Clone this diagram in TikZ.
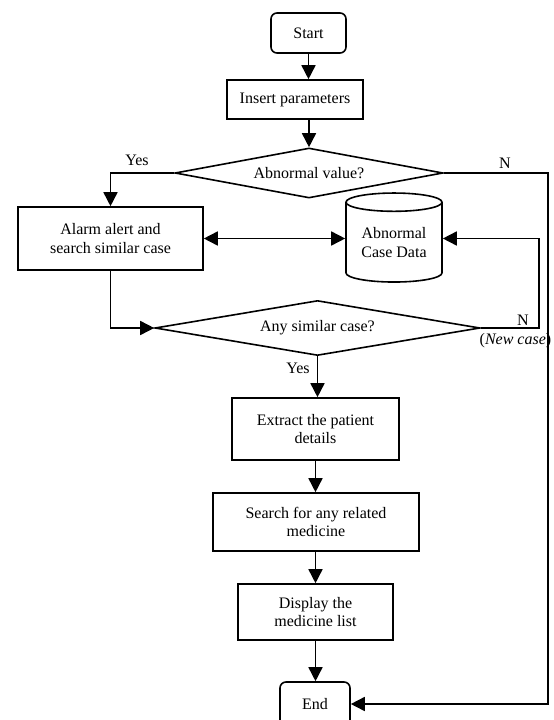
\documentclass[tikz,border=0pt]{standalone}
\usepackage{fontspec}
\setmainfont{Liberation Serif}
\usetikzlibrary{arrows.meta,positioning,shapes.geometric}

\begin{document}
\begin{tikzpicture}[x=1pt,y=-1pt,line width=1.6pt,font=\fontsize{16}{18.5}\selectfont,
  box/.style={draw,align=center,inner sep=2pt},
  term/.style={box,rounded corners=6pt},
  dec/.style={draw,diamond,inner sep=0pt},
  store/.style={draw,cylinder,shape border rotate=90,aspect=0.28,align=center,inner sep=0pt},
  arr/.style={-{Triangle[length=14pt,width=14pt]}},
  lbl/.style={inner sep=1pt}]
\useasboundingbox (0,0) rectangle (554,720);
\node[term,minimum width=75pt,minimum height=40pt] (start) at (308.5,33) {Start};
\node[box,minimum width=136pt,minimum height=39pt] (ins) at (295,99.5) {Insert parameters};
\node[dec,aspect=5.36,minimum width=268pt,minimum height=50pt] (abn) at (309,173) {Abnormal value?};
\node[box,minimum width=185pt,minimum height=63pt] (alarm) at (110.5,238.5) {Alarm alert and\\search similar case};
\node[store,minimum width=96pt,minimum height=89pt] (db) at (394,242.5) {Abnormal\\Case Data};
\node[dec,aspect=5.9,minimum width=325pt,minimum height=55pt] (sim) at (317.5,328) {Any similar case?};
\node[box,minimum width=167pt,minimum height=62pt] (ext) at (315.5,429) {Extract the patient\\details};
\node[box,minimum width=206pt,minimum height=58pt] (srch) at (316,522) {Search for any related\\medicine};
\node[box,minimum width=155pt,minimum height=56pt] (disp) at (315.5,612) {Display the\\medicine list};
\node[term,minimum width=70pt,minimum height=44pt] (end) at (315,704) {End};
\coordinate (nr) at (548,173);
\coordinate (ncr) at (539,328);
\node[lbl] (yes1) at (137,160) {Yes};
\node[lbl] (n1) at (505,163) {N};
\node[lbl] (n2) at (523,320) {N};
\node[lbl,anchor=east] (newc) at (553,341) {(\textit{New case})};
\node[lbl] (yes2) at (298,368) {Yes};
\draw[arr] (start) -- (start|-ins.north);
\draw[arr] (ins.south-|abn) -- (abn.north);
\draw[arr] (abn.west) -| (alarm.north);
\draw[arr] (alarm.south) |- (sim.west);
\draw[{Triangle[length=14pt,width=14pt]}-{Triangle[length=14pt,width=14pt]}] (alarm.east) -- (db.west|-alarm.east);
\draw[arr] (sim.east) -- (ncr) |- (db.east|-alarm.east);
\draw[arr] (abn.east) -- (nr) |- (end.east);
\draw[arr] (sim.south) -- (sim.south|-ext.north);
\draw[arr] (ext.south) -- (ext.south|-srch.north);
\draw[arr] (srch.south-|disp) -- (disp.north);
\draw[arr] (disp.south) -- (disp.south|-end.north);
\end{tikzpicture}
\end{document}
